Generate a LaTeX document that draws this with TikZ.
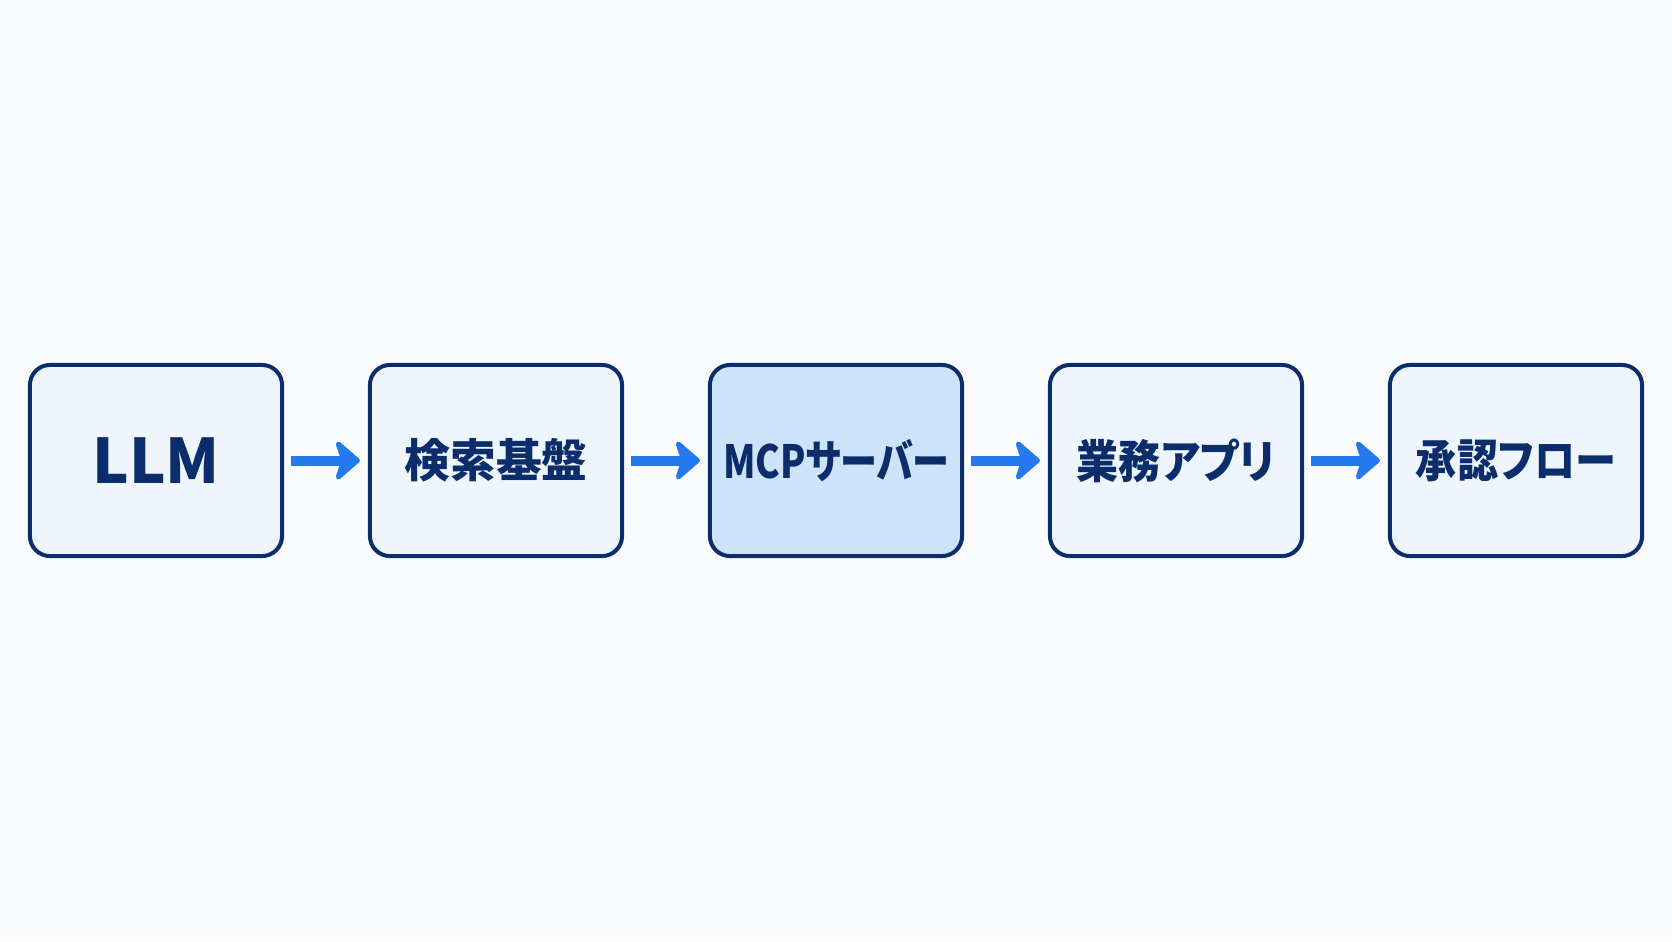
\documentclass[tikz,border=0pt]{standalone}
\usepackage{graphicx}
\usepackage{fontspec}
\setmainfont{Noto Sans CJK JP}[RawFeature=+palt]
\usepackage{tikz}
\usetikzlibrary{arrows.meta}
\definecolor{navy}{HTML}{0B2D6B}
\definecolor{boxfill}{HTML}{EEF5FD}
\definecolor{mcpfill}{HTML}{CCE3FA}
\definecolor{arrowblue}{HTML}{2479EE}
\definecolor{bg}{HTML}{FAFBFD}
\newcommand{\boxwidth}{2.52cm}
\newcommand{\boxheight}{1.91cm}
\newcommand{\rim}{0.04cm}
\newcommand{\squeeze}[2]{\scalebox{#1}[1]{#2}}

\tikzset{
  stage/.style={draw=navy, line width=\rim, fill=boxfill, rounded corners=0.2cm,
    minimum width=\boxwidth, minimum height=\boxheight, inner sep=0pt,
    text=navy, font=\bfseries\fontsize{13pt}{16pt}\selectfont},
  flow/.style={draw=arrowblue, line width=0.1cm, shorten <=0.07cm, shorten >=0.08cm,
    -{Stealth[length=0.28cm, width=0.48cm, inset=0.08cm, round]}}
}

\begin{document}
\begin{tikzpicture}[x=0.01cm, y=0.01cm]
\fill[bg] (0,0) rectangle (1672,941);
\useasboundingbox (0,0) rectangle (1672,941);
\node[stage, font=\bfseries\fontsize{17.5pt}{20pt}\selectfont] (llm) at (156, 480.5) {LLM};
\node[stage] (search) at (496, 480.5) {検索基盤};
\node[stage, fill=mcpfill] (mcp) at (836, 480.5) {\squeeze{0.81}{MCPサーバー}};
\node[stage] (app) at (1176, 480.5) {\squeeze{0.92}{業務アプリ}};
\node[stage] (approval) at (1516, 480.5) {\squeeze{0.9}{承認フロー}};
%arrows
\draw[flow] (llm) -- (search);
\draw[flow] (search) -- (mcp);
\draw[flow] (mcp) -- (app);
\draw[flow] (app) -- (approval);
\end{tikzpicture}
\end{document}
